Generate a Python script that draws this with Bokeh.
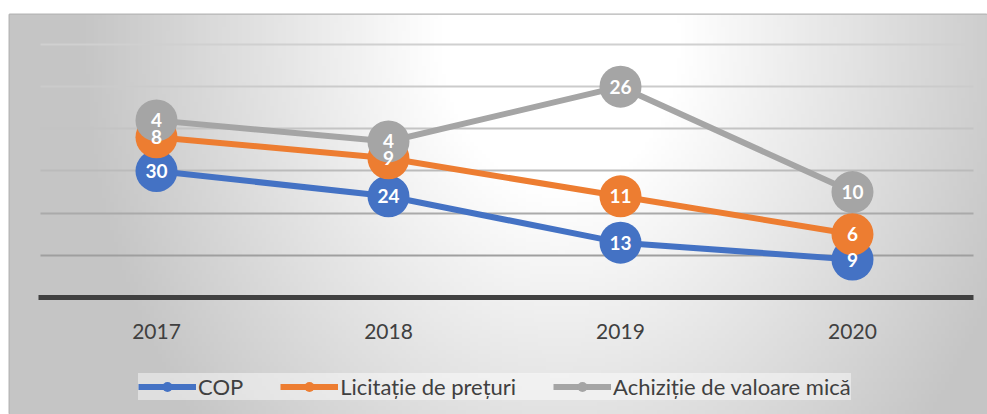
import numpy as np
from bokeh.plotting import figure
from bokeh.models import ColumnDataSource, Range1d, FixedTicker, Grid, Legend, LegendItem
from bokeh.core.properties import value
from bokeh.embed import file_html
from bokeh.resources import INLINE

# ---------------- data ----------------
years = ["2017", "2018", "2019", "2020"]
cop = [30, 24, 13, 9]
licitatie = [8, 9, 11, 6]
achizitie = [4, 4, 26, 10]
series_names = ["COP", "Licitație de prețuri", "Achiziție de valoare mică"]
grid_values = [10, 20, 30, 40, 50, 60]

# ---------------- styles ----------------
colors = ["#4472C4", "#ED7D31", "#A5A5A5"]
grid_colors = ["#9f9f9f", "#aaaaaa", "#bbbbbb", "#c4c4c4", "#cbcbcb", "#d0d0d0"]

x = list(range(len(years)))
level1 = list(cop)
level2 = [a + b for a, b in zip(level1, licitatie)]
level3 = [a + b for a, b in zip(level2, achizitie)]

W, H = 987, 414
BL, BT = 9, 14
FW, FH = W - BL, H - BT

x_start, x_end = -0.6336, 3.582
y_start, y_end = -27.75, 67.11

p = figure(width=W, height=H,
           x_range=Range1d(x_start, x_end), y_range=Range1d(y_start, y_end),
           output_backend="svg", toolbar_location=None, y_axis_location=None,
           min_border_left=BL, min_border_top=BT, min_border_right=0, min_border_bottom=0,
           border_fill_color="white", background_fill_color="#e2e2e2",
           outline_line_color="#b5b5b5", outline_line_width=2)

# background radial gradient (decoration)
step = 4
nx, ny = FW // step + 1, FH // step + 1
cx = BL + (np.arange(nx) + 0.5) * step
cy = BT + (np.arange(ny) + 0.5) * step
X, Y = np.meshgrid(cx, cy)
r = np.sqrt(((X - 560.0) / 400.0) ** 2 + ((Y - 40.0) / 500.0) ** 2)
t = np.clip((r - 0.3) / 0.9, 0, 1)
v = (255 - 58 * t).astype(np.uint8)
img = np.zeros((ny, nx), dtype=np.uint32)
view = img.view(dtype=np.uint8).reshape((ny, nx, 4))
view[..., 0] = v
view[..., 1] = v
view[..., 2] = v
view[..., 3] = 255
img = img[::-1].copy()
dh = ny * step * (y_end - y_start) / FH
dw = nx * step * (x_end - x_start) / FW
p.image_rgba(image=[img], x=x_start, y=y_end - dh, dw=dw, dh=dh, level="image")

p.xgrid.visible = False
p.ygrid.visible = False

for gv, gc in zip(grid_values, grid_colors):
    g = Grid(dimension=1, ticker=FixedTicker(ticks=[gv]), grid_line_color=gc, grid_line_width=2)
    try:
        g.cross_bounds = (-0.5, 3.52)
    except Exception:
        pass
    p.add_layout(g, "center")

xa = p.xaxis[0]
xa.fixed_location = 0
xa.bounds = (-0.51, 3.52)
xa.ticker = FixedTicker(ticks=x)
xa.major_label_overrides = {i: yl for i, yl in zip(x, years)}
xa.axis_line_color = "#404040"
xa.axis_line_width = 5
xa.major_tick_line_color = None
xa.minor_tick_line_color = None
xa.major_label_text_font = "Lato"
xa.major_label_text_font_size = "21px"
xa.major_label_text_color = "#404040"
xa.major_label_standoff = 21

src = ColumnDataSource(dict(
    x=x,
    l1=level1, l2=level2, l3=level3,
    t1=[str(val) for val in cop],
    t2=[str(val) for val in licitatie],
    t3=[str(val) for val in achizitie],
))

items = []
for key, name, col in zip(["l1", "l2", "l3"], series_names, colors):
    ln = p.line("x", key, source=src, line_color=col, line_width=6)
    sc = p.scatter("x", key, source=src, size=42, fill_color=col, line_color=None)
    items.append(LegendItem(label=name, renderers=[ln, sc]))

for key, tk in zip(["l1", "l2", "l3"], ["t1", "t2", "t3"]):
    p.text("x", key, text=tk, source=src, text_color="white",
           text_font=value("Lato"), text_font_style="bold", text_font_size="19px",
           text_align="center", text_baseline="middle")

legend = Legend(items=items, orientation="horizontal", location=(129, 14),
                glyph_width=58, glyph_height=25, label_standoff=2, spacing=37, padding=10,
                label_text_font="Lato", label_text_font_size="22px", label_text_color="#404040",
                background_fill_color="white", background_fill_alpha=0.45,
                border_line_color=None)
p.add_layout(legend, "center")

open("out.html", "w").write(file_html(p, INLINE))
